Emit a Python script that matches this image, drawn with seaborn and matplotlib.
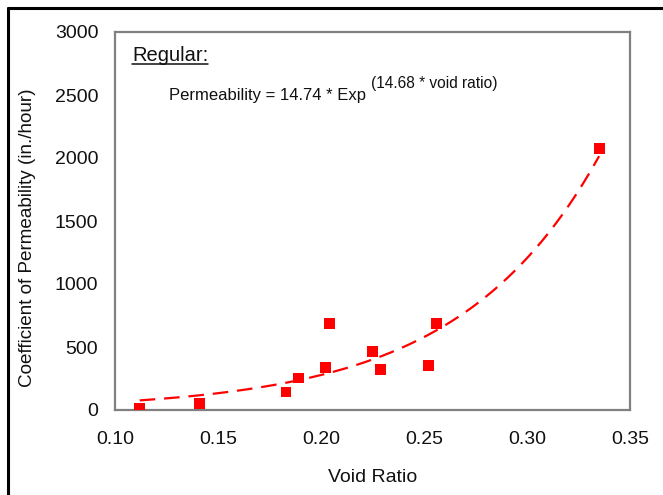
import numpy as np
import pandas as pd
import seaborn as sns
import matplotlib.pyplot as plt
from matplotlib.lines import Line2D

# measured points
void_ratio = [0.112, 0.141, 0.183, 0.189, 0.202, 0.204, 0.225, 0.229, 0.252, 0.256, 0.335]
permeability = [10, 50, 143, 254, 336, 683, 466, 320, 352, 683, 2077]

# exponential fit shown on the chart
fit_a = 14.74
fit_b = 14.68

x_ticks = [0.10, 0.15, 0.20, 0.25, 0.30, 0.35]
y_ticks = [0, 500, 1000, 1500, 2000, 2500, 3000]

sns.set_style('white')
plt.rcParams['font.family'] = ['Liberation Sans', 'DejaVu Sans']

df = pd.DataFrame({'void': void_ratio, 'perm': permeability})
fit_x = np.linspace(min(void_ratio), max(void_ratio), 200)
fit_df = pd.DataFrame({'void': fit_x, 'perm': fit_a * np.exp(fit_b * fit_x)})

W, H = 663, 495
fig = plt.figure(figsize=(W / 100, H / 100), dpi=100)
ax = fig.add_axes([115 / W, 1 - 410 / H, (630 - 115) / W, (410 - 32) / H])

sns.lineplot(data=fit_df, x='void', y='perm', ax=ax, color='#ff0000',
             lw=1.6, dashes=False, linestyle=(0, (7, 4)))
sns.scatterplot(data=df, x='void', y='perm', ax=ax, marker='s', color='#ff0000',
                s=62, edgecolor='none', zorder=3)

ax.set_xlim(0.10, 0.35)
ax.set_ylim(0, 3000)
ax.set_xticks(x_ticks)
ax.set_xticklabels([f'{t:.2f}' for t in x_ticks])
ax.set_yticks(y_ticks)
ax.tick_params(axis='both', direction='out', length=5, width=1.5, color='#808080',
               labelsize=14, labelcolor='#111111', pad=4)
ax.tick_params(axis='x', pad=10)
ax.tick_params(axis='y', pad=7)
for s in ax.spines.values():
    s.set_visible(True)
    s.set_color('#808080')
    s.set_linewidth(1.6)

ax.set_xlabel('Void Ratio', fontsize=14, color='#111111')
ax.set_ylabel('Coefficient of Permeability (in./hour)', fontsize=13.6, color='#111111')
ax.xaxis.set_label_coords((373 - 115) / (630 - 115), -(478 - 410) / (410 - 32))
ax.yaxis.set_label_coords(-(115 - 28) / (630 - 115), (410 - 238) / (410 - 32))
ax.xaxis.label.set_va('center')
ax.yaxis.label.set_va('center')

# annotation text
t_reg = fig.text(132 / W, 1 - 61 / H, 'Regular:', fontsize=14.5, color='#111111', va='baseline')
fig.text(169 / W, 1 - 100 / H, 'Permeability = 14.74 * Exp', fontsize=12,
         color='#111111', va='baseline')
fig.text(371 / W, 1 - 88 / H, '(14.68 * void ratio)', fontsize=11.2,
         color='#111111', va='baseline')

fig.canvas.draw()
bb = t_reg.get_window_extent()
fig.add_artist(Line2D([bb.x0 / W, bb.x1 / W], [1 - 64 / H, 1 - 64 / H],
                      color='#111111', lw=1.1, transform=fig.transFigure))

# outer frame (left and top edges)
fig.add_artist(Line2D([8 / W, 8 / W], [0, 1 - 8 / H], color='black', lw=2.2,
                      transform=fig.transFigure))
fig.add_artist(Line2D([8 / W, 1], [1 - 8 / H, 1 - 8 / H], color='black', lw=2.2,
                      transform=fig.transFigure))

fig.savefig('out.png', dpi=100, facecolor='white')
